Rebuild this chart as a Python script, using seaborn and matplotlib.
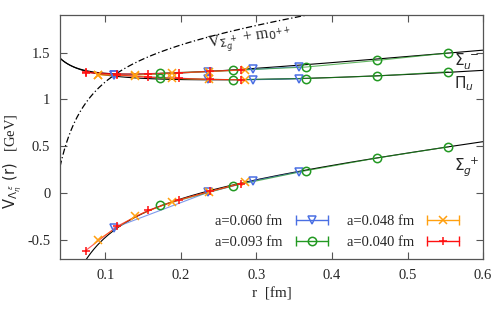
import numpy as np
import pandas as pd
import seaborn as sns
import matplotlib.pyplot as plt
from matplotlib.lines import Line2D
from matplotlib.legend_handler import HandlerLine2D, HandlerTuple

# lattice data
r_060 = [0.111, 0.236, 0.296, 0.357]
r_093 = [0.173, 0.269, 0.365, 0.459, 0.554]
r_048 = [0.090, 0.139, 0.188, 0.237, 0.285]
r_040 = [0.074, 0.116, 0.157, 0.198, 0.238, 0.279]

# Sigma_g^+
sg_060 = [-0.37, 0.01, 0.133, 0.23]
sg_093 = [-0.13, 0.08, 0.24, 0.375, 0.495]
sg_048 = [-0.495, -0.247, -0.09, 0.015, 0.12]
sg_040 = [-0.61, -0.35, -0.18, -0.07, 0.02, 0.10]

# Sigma_u^-
su_060 = [1.262, 1.295, 1.32, 1.35]
su_093 = [1.28, 1.31, 1.345, 1.415, 1.495]
su_048 = [1.265, 1.258, 1.28, 1.295, 1.315]
su_040 = [1.29, 1.27, 1.275, 1.285, 1.30, 1.315]

# Pi_u
pu_060 = [1.258, 1.213, 1.21, 1.22]
pu_093 = [1.225, 1.21, 1.223, 1.25, 1.295]
pu_048 = [1.26, 1.25, 1.225, 1.213, 1.21]
pu_040 = [1.285, 1.262, 1.235, 1.225, 1.213, 1.21]

labels = ["a=0.060 fm", "a=0.093 fm", "a=0.048 fm", "a=0.040 fm"]
colors = ["#4a6fe3", "#229922", "#ffa010", "#ff1010"]
markers = ["v", "o", "x", "+"]

# fit curve parameters
sg_fit = (0.047, 0.0618, 1.01)      # c - A/r + sigma r
dd_fit = (1.629, 0.0557, 1.15)      # V_Sigma_g+ + m_0++
su_fit = (1.070, 0.01365, 0.7206)   # c + A/r + b r
pu_fit = (1.133, 0.01226, 0.435)    # c + A/r + b r^2

rows = []
for lab, rr, sg, su, pu in zip(labels,
                               [r_060, r_093, r_048, r_040],
                               [sg_060, sg_093, sg_048, sg_040],
                               [su_060, su_093, su_048, su_040],
                               [pu_060, pu_093, pu_048, pu_040]):
    for state, vals in [("Sg", sg), ("Su", su), ("Pu", pu)]:
        for r, v in zip(rr, vals):
            rows.append({"a": lab, "state": state, "r": r, "V": v})
df = pd.DataFrame(rows)

sns.set_theme(style="ticks")
plt.rcParams['font.family'] = ['Liberation Serif', 'DejaVu Serif']
plt.rcParams['mathtext.fontset'] = 'dejavusans'

fig = plt.figure(figsize=(4.98, 3.12), dpi=100)
ax = fig.add_axes([0.1205, 0.170, 0.8495, 0.782])

rg = np.linspace(0.04, 0.6, 400)
c, A, s = sg_fit
ax.plot(rg, c - A / rg + s * rg, color="black", lw=0.8, zorder=2)
c, A, s = dd_fit
ax.plot(rg, c - A / rg + s * rg, color="black", lw=0.9, ls=(0, (5, 2, 1, 2)), zorder=2)
c, A, s = su_fit
ax.plot(rg, c + A / rg + s * rg, color="black", lw=0.8, zorder=2)
c, A, s = pu_fit
ax.plot(rg, c + A / rg + s * rg ** 2, color="black", lw=0.8, zorder=2)

for lab, col, mk in zip(labels, colors, markers):
    for state in ["Sg", "Su", "Pu"]:
        sub = df[(df["a"] == lab) & (df["state"] == state)]
        sns.lineplot(data=sub, x="r", y="V", ax=ax, color=col, lw=0.8, alpha=0.7,
                     estimator=None, sort=True, legend=False, zorder=3)
        ax.plot(sub["r"], sub["V"], ls="none", marker=mk, ms=6, mew=1.1,
                mfc="none", mec=col, zorder=4)

ax.set_xlim(0.04, 0.6)
ax.set_ylim(-0.7, 1.9)
ax.set_xticks([0.1, 0.2, 0.3, 0.4, 0.5, 0.6])
ax.set_yticks([-0.5, 0, 0.5, 1, 1.5])
ax.set_xticklabels(["0.1", "0.2", "0.3", "0.4", "0.5", "0.6"])
ax.set_yticklabels(["-0.5", "0", "0.5", "1", "1.5"])
ax.tick_params(direction="in", top=True, right=True, length=5, width=0.8,
               labelsize=10.5, color="#555555", pad=7)
for sp in ax.spines.values():
    sp.set_color("#555555")
    sp.set_linewidth(0.9)

ax.set_xlabel("r  [fm]", fontsize=11, labelpad=4)
ax.set_ylabel(r"$\mathrm{V}_{\Lambda_\eta^{\ \epsilon}}\ (\mathrm{r})$   [GeV]", fontsize=10.5)
ax.yaxis.set_label_coords(-0.085, 0.40)

ax.text(0.562, 1.40, r"$\Sigma_u^{\ -}$", fontsize=11, ha="left", va="center")
ax.text(0.562, 1.17, r"$\Pi_u$", fontsize=11, ha="left", va="center")
ax.text(0.562, 0.28, r"$\Sigma_g^{\ +}$", fontsize=11, ha="left", va="center")
ax.text(0.292, 1.63, r"V$_{\Sigma_g^{\ +}}$ + m$_{0^{++}}$", fontsize=11.5,
        ha="center", va="center", rotation=9)

handles = []
hmap = {}
for col, mk in zip(colors, markers):
    caps = Line2D([], [], color=col, lw=1.0, marker="|", ms=7, mew=1.0)
    mark = Line2D([], [], ls="none", marker=mk, ms=6, mew=1.1, mfc="none", mec=col)
    hmap[caps] = HandlerLine2D(numpoints=2)
    hmap[mark] = HandlerLine2D(numpoints=1)
    handles.append((caps, mark))
hmap[tuple] = HandlerTuple(ndivide=1)
ax.legend(handles, labels, ncol=2, loc="lower right", bbox_to_anchor=(0.985, -0.015),
          frameon=False, markerfirst=False, fontsize=10.5, handlelength=2.8,
          columnspacing=1.0, handletextpad=0.6, labelspacing=0.55, handler_map=hmap)

fig.savefig("out.png", dpi=100)
